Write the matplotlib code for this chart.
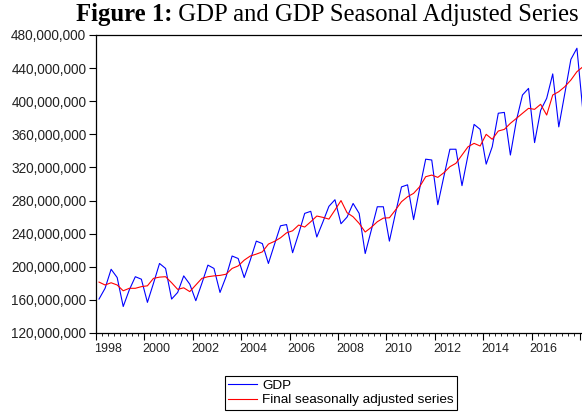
import numpy as np
import matplotlib
matplotlib.use("Agg")
import matplotlib.pyplot as plt
from matplotlib.ticker import FuncFormatter, MultipleLocator

plt.rcParams['font.family'] = ['Liberation Sans', 'DejaVu Sans']

# quarterly data, 1998Q1 - 2018Q1, millions
start_year = 1998
gdp = [161, 174, 197, 187,
       152, 172, 188, 185,
       157, 180, 204, 198,
       161, 169, 189, 179,
       159, 180, 202, 198,
       169, 188, 213, 210,
       187, 208, 231, 228,
       204, 227, 249.5, 251,
       217, 240, 264.5, 267,
       236, 254, 273, 281,
       252, 260, 276.5, 264.5,
       216, 244, 272.5, 272.5,
       231, 264.5, 296.5, 299,
       257, 294.5, 330, 329,
       275, 309, 342, 342,
       298, 335, 372, 366,
       324, 345, 385.5, 386.5,
       335, 377, 407.5, 415.5,
       350, 389, 403.5, 433,
       369, 409.5, 450.5, 464,
       387]
sa = [181.5, 178, 180.7, 178,
      171, 174, 174, 176,
      177, 186, 187.5, 188,
      180.7, 172.7, 174.6, 170,
      178, 186, 188, 189,
      189.6, 191, 198, 201,
      208, 213, 215.3, 218,
      227.4, 230.7, 235, 241,
      243.5, 250.4, 248, 254.4,
      261.3, 259.7, 257.6, 268.5,
      280, 265.3, 260.4, 252.4,
      242, 247.6, 254.4, 258.8,
      259.2, 268.5, 278.6, 284.6,
      288.7, 296.7, 308.8, 310.8,
      308, 313.6, 320.9, 325,
      335, 345, 349.1, 345.9,
      360, 354, 364, 366,
      373.3, 379.3, 385.4, 391.4,
      390.2, 396.3, 383.3, 407.5,
      411.5, 417.6, 425.6, 435.7,
      441.7]
year_labels = list(range(1998, 2017, 2))

gdp = np.array(gdp) * 1e6
sa = np.array(sa) * 1e6
# each quarter plotted at the middle of its period
t = start_year + (np.arange(len(gdp)) + 0.5) / 4

W, H = 582, 413
fig = plt.figure(figsize=(W / 100, H / 100), dpi=100)

x0, x1 = 1998, 2018.25
left, right, top, bottom = 96, 586, 35, 333
ax = fig.add_axes([left / W, 1 - bottom / H, (right - left) / W, (bottom - top) / H])

l1, = ax.plot(t, gdp, color="#0000ff", linewidth=0.8)
l2, = ax.plot(t, sa, color="#ff0000", linewidth=0.8)

ax.set_xlim(x0, x1)
ax.set_ylim(120e6, 480e6)
ax.yaxis.set_major_locator(MultipleLocator(40e6))
ax.yaxis.set_major_formatter(FuncFormatter(lambda v, p: "{:,.0f}".format(v)))

ax.xaxis.set_major_locator(MultipleLocator(2))
ax.xaxis.set_minor_locator(MultipleLocator(0.25))
ax.set_xticklabels([])
ax.tick_params(axis='x', which='major', direction='out', length=5, width=0.8)
ax.tick_params(axis='x', which='minor', direction='out', length=2.5, width=0.6)
ax.tick_params(axis='y', direction='out', length=5, width=0.8, pad=2,
               labelsize=9.8, labelcolor='#222222')
ax.xaxis.set_tick_params(labelbottom=False)

for y in year_labels:
    ax.annotate(str(y), xy=(y + 0.5, 0), xycoords=('data', 'axes fraction'),
                xytext=(0, -7.5), textcoords='offset points',
                ha='center', va='top', fontsize=9, color='#222222')

for s in ax.spines.values():
    s.set_linewidth(0.9)

# title: bold part + regular part
tb = fig.text(76 / W, 1 - 21 / H, "Figure 1:", fontsize=17.8, fontweight='bold',
              family='Liberation Serif', va='baseline', ha='left')
fig.canvas.draw()
bb = tb.get_window_extent()
fig.text(bb.x1 / W, 1 - 21 / H, " GDP and GDP Seasonal Adjusted Series", fontsize=17.8,
         family='Liberation Serif', va='baseline', ha='left')

leg = fig.legend([l1, l2], ["GDP", "Final seasonally adjusted series"],
                 loc='center', bbox_to_anchor=(341 / W, 1 - 393 / H),
                 bbox_transform=fig.transFigure, fontsize=9.7,
                 fancybox=False, framealpha=1, edgecolor='black',
                 handlelength=2.1, handletextpad=0.4, labelspacing=0.15,
                 borderpad=0.25)
leg.get_frame().set_linewidth(0.8)

fig.savefig("out.png", dpi=100)
